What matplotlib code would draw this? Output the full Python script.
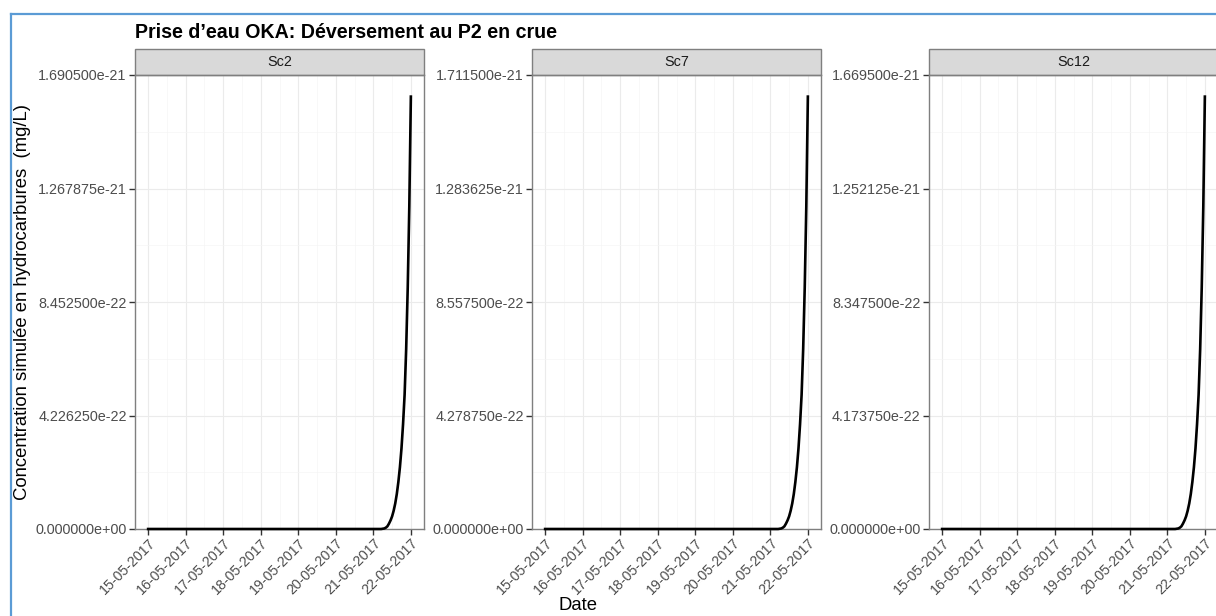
import numpy as np
import pandas as pd
import matplotlib
matplotlib.use("Agg")
import matplotlib.pyplot as plt
import matplotlib.dates as mdates
from matplotlib.lines import Line2D
from matplotlib.patches import Rectangle

plt.rcParams["font.family"] = ["Liberation Sans", "DejaVu Sans"]

# ── données ────────────────────────────────────────────────────────────────
scenarios = ["Sc2", "Sc7", "Sc12"]
peaks = [1.61e-21, 1.63e-21, 1.59e-21]          # maximum simulé par scénario
ylims = [1.6905e-21, 1.7115e-21, 1.6695e-21]    # max * 1.05

times = pd.date_range("2017-05-15 00:00", "2017-05-22 00:00", freq="h")
n_flat = 150   # 15-05 00h -> 21-05 05h : concentration nulle
# montée du 21-05 06h au 22-05 00h (Sc2, en 1e-21 mg/L)
rise_sc2 = [0.001, 0.002, 0.005, 0.010, 0.020, 0.032, 0.047, 0.068, 0.095,
            0.13, 0.175, 0.23, 0.30, 0.39, 0.50, 0.67, 0.90, 1.20, 1.61]

title = "Prise d\u2019eau OKA: D\u00e9versement au P2 en crue"
ylabel = "Concentration simul\u00e9e en hydrocarbures  (mg/L)"
xlabel = "Date"

W, H = 1216, 616
fig = plt.figure(figsize=(W / 100, H / 100), dpi=100)
fig.patch.set_facecolor("white")

# cadre bleu (capture d'écran)
blue = "#5B9BD5"
fig.add_artist(Line2D([11 / W, 11 / W], [0, 1 - 14 / H], color=blue, lw=1.6,
                      transform=fig.transFigure))
fig.add_artist(Line2D([11 / W, 1], [1 - 14 / H, 1 - 14 / H], color=blue, lw=1.6,
                      transform=fig.transFigure))

lefts = [135, 532, 929]
pw, top, bot = 289, 75, 529
ph = bot - top
strip_h = 26
border = "#7F7F7F"
gray_txt = "#4D4D4D"

for sc, pk, ylim, lx in zip(scenarios, peaks, ylims, lefts):
    ax = fig.add_axes([lx / W, (H - bot) / H, pw / W, ph / H])
    vals = np.concatenate([np.zeros(n_flat), np.array(rise_sc2) * 1e-21 * pk / peaks[0]])
    ax.plot(times, vals, color="black", lw=1.9, clip_on=False, zorder=3)

    span = times[-1] - times[0]
    ax.set_xlim(times[0] - 0.05 * span, times[-1] + 0.05 * span)
    ax.set_ylim(0, ylim)
    ax.set_yticks(np.linspace(0, ylim, 5))
    ax.set_yticklabels([f"{v:.6e}" for v in np.linspace(0, ylim, 5)])
    ax.xaxis.set_major_locator(mdates.DayLocator())
    ax.xaxis.set_minor_locator(mdates.HourLocator(byhour=[12]))
    ax.xaxis.set_major_formatter(mdates.DateFormatter("%d-%m-%Y"))
    ax.set_yticks(np.linspace(0, ylim, 9)[1::2], minor=True)

    ax.grid(which="major", color="#EBEBEB", lw=0.8)
    ax.grid(which="minor", color="#F5F5F5", lw=0.5)
    ax.set_axisbelow(True)
    for s in ax.spines.values():
        s.set_color(border)
        s.set_linewidth(1.0)
    ax.tick_params(which="major", length=4, width=1.0, color="#333333",
                   labelcolor=gray_txt, pad=2)
    ax.tick_params(axis="y", labelsize=10.4)
    ax.tick_params(axis="x", labelsize=10.2, pad=1)
    ax.tick_params(which="minor", length=0)
    for lab in ax.get_xticklabels():
        lab.set_rotation(45)
        lab.set_ha("right")
        lab.set_rotation_mode("anchor")

    # bandeau de facette
    ax.add_patch(Rectangle((0, 1), 1, strip_h / ph, transform=ax.transAxes,
                           facecolor="#D9D9D9", edgecolor=border, lw=1.0,
                           clip_on=False))
    ax.text(0.5, 1 + strip_h / ph / 2, sc, transform=ax.transAxes,
            ha="center", va="center", fontsize=10.4, color="#1A1A1A")

fig.text(135 / W, 1 - 33 / H, title, ha="left", va="center",
         fontsize=14.1, fontweight="bold")
fig.text(23 / W, 1 - 302 / H, ylabel, rotation=90, ha="center", va="center",
         fontsize=13.3)
fig.text(578 / W, 1 - 605 / H, xlabel, ha="center", va="center", fontsize=13.3)

fig.savefig("out.png", dpi=100)
